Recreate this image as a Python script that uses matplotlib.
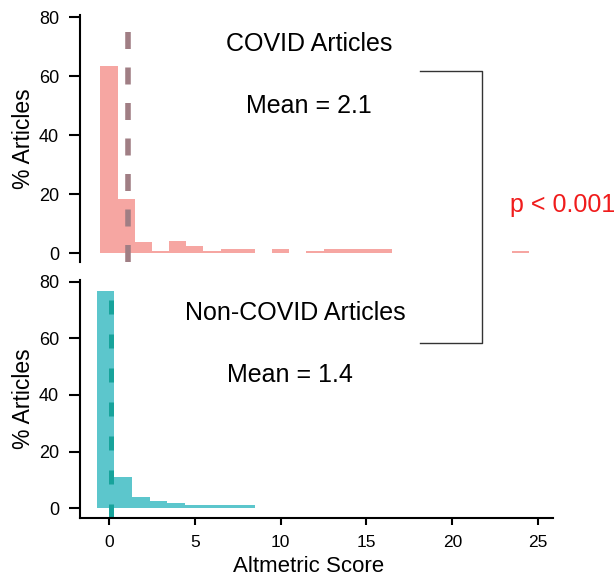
import matplotlib
matplotlib.use("Agg")
import matplotlib.pyplot as plt
import numpy as np
from matplotlib.lines import Line2D

plt.rcParams['font.family'] = ['Liberation Sans', 'DejaVu Sans']

# ---- data ----
covid_bin_centers = list(range(0, 25))
covid_pct = [63.5, 18.3, 3.7, 0.9, 4.3, 2.4, 0.9, 1.4, 1.4, 0.0,
             1.4, 0.0, 0.9, 1.4, 1.4, 1.4, 1.4, 0.0, 0.0, 0.0,
             0.0, 0.0, 0.0, 0.0, 0.7]
covid_line_x = 1.1

noncovid_bin_left = [-0.70, 0.32, 1.34, 2.36, 3.38, 4.40, 5.42, 6.44, 7.46]
noncovid_bin_width = 1.02
noncovid_pct = [76.8, 11.0, 3.9, 2.5, 1.7, 1.1, 1.1, 1.1, 1.1]
noncovid_line_x = 0.1

x_ticks = [0, 5, 10, 15, 20, 25]
y_ticks = [0, 20, 40, 60, 80]

W, H = 616, 578
fig = plt.figure(figsize=(W / 100, H / 100), dpi=100)

def fx(px):
    return px / W

def fy(py):
    return 1 - py / H

ax1 = fig.add_axes([fx(80), fy(262), fx(553) - fx(80), fy(15) - fy(262)])
ax2 = fig.add_axes([fx(80), fy(518), fx(553) - fx(80), fy(280) - fy(518)])

# top panel
ax1.bar(covid_bin_centers, covid_pct, width=1.0, color='#f6a6a2',
        edgecolor='none', zorder=1)
ax1.axvline(covid_line_x, color='#a07e84', lw=4.0,
            linestyle=(0, (3.06, 3.33)), zorder=2)
ax1.set_xlim(-1.69, 25.87)
ax1.set_ylim(-2.95, 80.8)

# bottom panel
ax2.bar(noncovid_bin_left, noncovid_pct, width=noncovid_bin_width,
        align='edge', color='#5cc6cc', edgecolor='none', zorder=1)
ax2.axvline(noncovid_line_x, color='#17a39b', lw=3.6,
            linestyle=(0, (2.8, 4.0)), zorder=2)
ax2.set_xlim(-1.69, 25.87)
ax2.set_ylim(-3.43, 80.6)

for ax in (ax1, ax2):
    for s in ('top', 'right'):
        ax.spines[s].set_visible(False)
    ax.spines['left'].set_linewidth(1.5)
    ax.set_yticks(y_ticks)
    ax.tick_params(axis='y', direction='out', length=8, width=1.5,
                   pad=7, labelsize=13)
    ax.set_ylabel('% Articles', fontsize=16.5)
    ax.yaxis.set_label_coords(-0.095, 0.5)
    ax.patch.set_alpha(0)

ax1.spines['bottom'].set_visible(False)
ax1.set_xticks([])

ax2.spines['bottom'].set_linewidth(1.5)
ax2.set_xticks(x_ticks)
ax2.tick_params(axis='x', direction='out', length=5, width=1.5,
                pad=7, labelsize=12.5)
ax2.set_xlabel('Altmetric Score', fontsize=16)
ax2.xaxis.set_label_coords(0.484, -0.16)

# annotations
fig.text(fx(309), fy(44), 'COVID Articles', fontsize=18, ha='center', va='center')
fig.text(fx(309), fy(106), 'Mean = 2.1', fontsize=18, ha='center', va='center')
fig.text(fx(295), fy(313), 'Non-COVID Articles', fontsize=18, ha='center', va='center')
fig.text(fx(290), fy(375), 'Mean = 1.4', fontsize=18, ha='center', va='center')
fig.text(fx(510), fy(212), 'p < 0.001', fontsize=18, color='#f01c1c',
         ha='left', va='baseline')

bracket = Line2D([fx(420), fx(482), fx(482), fx(420)],
                 [fy(71), fy(71), fy(343), fy(343)],
                 transform=fig.transFigure, color='#333333', lw=1.0)
fig.add_artist(bracket)

fig.savefig('out.png', dpi=100)
